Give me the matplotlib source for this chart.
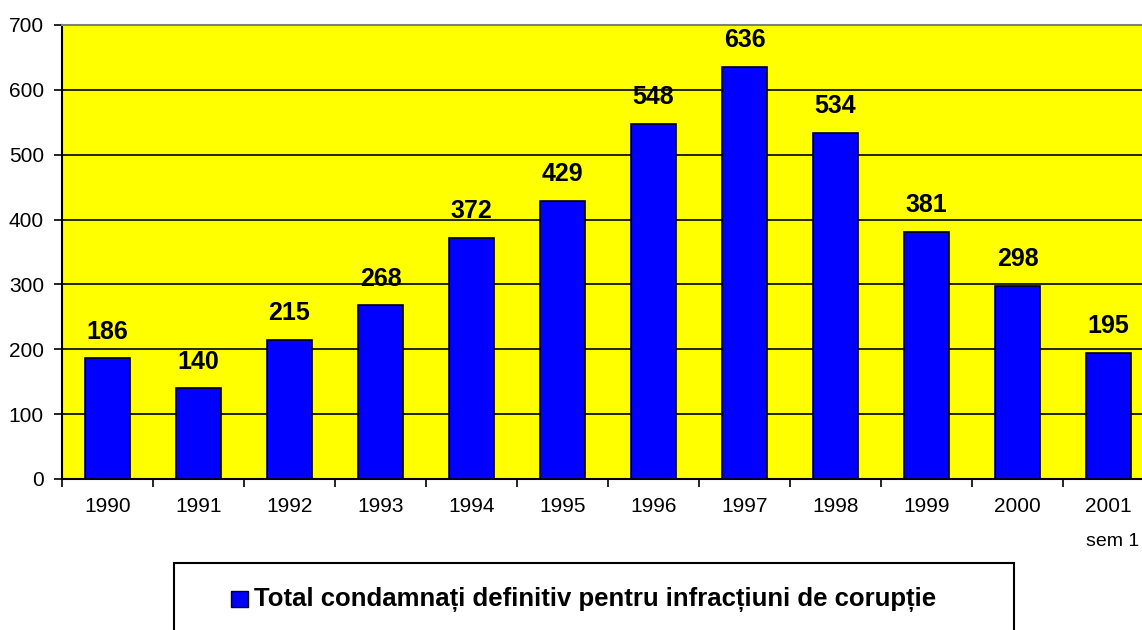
import matplotlib.pyplot as plt
from matplotlib.patches import Rectangle

plt.rcParams['font.family'] = ['Liberation Sans', 'DejaVu Sans']

years = ['1990', '1991', '1992', '1993', '1994', '1995', '1996', '1997', '1998', '1999', '2000', '2001']
totals = [186, 140, 215, 268, 372, 429, 548, 636, 534, 381, 298, 195]
legend_label = 'Total condamnați definitiv pentru infracțiuni de corupție'

fig = plt.figure(figsize=(11.42, 6.30), dpi=100)
ax = fig.add_axes([62/1142, 1 - 479/630, 1092/1142, 454/630])
ax.set_facecolor('#ffff00')

x = list(range(len(years)))
ax.bar(x, totals, width=0.5, color='#0000ff', edgecolor='black', linewidth=1.2, zorder=3)
for xi, v in zip(x, totals):
    ax.annotate(str(v), (xi, v), xytext=(0, 14), textcoords='offset points',
                ha='center', va='baseline', fontsize=18, fontweight='bold')

ax.set_xlim(-0.5, len(years) - 0.5)
ax.set_ylim(0, 700)
ax.set_yticks(range(0, 701, 100))
ax.yaxis.grid(True, color='black', linewidth=1.2, zorder=0)
ax.set_axisbelow(True)

ax.set_xticks([i - 0.5 for i in range(len(years))])
ax.set_xticklabels([])
ax.set_xticks(x, minor=True)
ax.set_xticklabels(years, minor=True)
ax.tick_params(axis='x', which='minor', length=0, pad=13, labelsize=15)
ax.tick_params(axis='x', which='major', length=6, width=1.2, direction='out')
ax.tick_params(axis='y', length=6, width=1.2, direction='out', labelsize=15, pad=7)

for s in ['left', 'bottom']:
    ax.spines[s].set_linewidth(1.5)
    ax.spines[s].set_color('black')
ax.spines['top'].set_color('#808080')
ax.spines['top'].set_linewidth(1.5)
ax.spines['right'].set_visible(False)

fig.text(1113/1142, 1 - 542/630, 'sem 1', ha='center', va='center', fontsize=14)

# legend box
fig.patches.append(Rectangle((174/1142, -0.05), (1014 - 174)/1142, (630 - 563)/630 + 0.05,
                             transform=fig.transFigure, facecolor='white', edgecolor='black',
                             linewidth=1.5))
fig.patches.append(Rectangle((231/1142, 1 - 607/630), 17/1142, 16/630,
                             transform=fig.transFigure, facecolor='#0000ff', edgecolor='black',
                             linewidth=1))
fig.text(254/1142, 1 - 600/630, legend_label, ha='left', va='center', fontsize=18.5, fontweight='bold')

fig.savefig('out.png', dpi=100)
